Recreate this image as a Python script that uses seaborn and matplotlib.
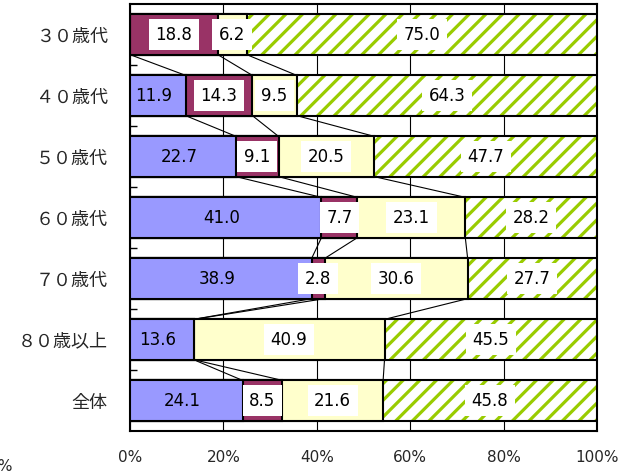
import numpy as np
import pandas as pd
import matplotlib
matplotlib.use("Agg")
import matplotlib.pyplot as plt
import seaborn as sns

# Age groups (top to bottom) and the four stacked shares (%) per group
categories = ["３０歳代", "４０歳代", "５０歳代", "６０歳代", "７０歳代", "８０歳以上", "全体"]
share_1 = [0.0, 11.9, 22.7, 41.0, 38.9, 13.6, 24.1]
share_2 = [18.8, 14.3, 9.1, 7.7, 2.8, 0.0, 8.5]
share_3 = [6.2, 9.5, 20.5, 23.1, 30.6, 40.9, 21.6]
share_4 = [75.0, 64.3, 47.7, 28.2, 27.7, 45.5, 45.8]
x_ticks = [0, 20, 40, 60, 80, 100]
x_tick_labels = ["0%", "20%", "40%", "60%", "80%", "100%"]

colors = ["#9999FF", "#993366", "#FFFFCC", "#99CC00"]

sns.set_theme(style="white")
plt.rcParams["font.family"] = ["DejaVu Sans", "Noto Sans CJK JP"]
plt.rcParams["hatch.linewidth"] = 2.3

fig = plt.figure(figsize=(6.31, 4.73), dpi=100)
ax = fig.add_axes([130 / 631, 1 - 431 / 473, 467 / 631, 427 / 473])

parts = np.array([share_1, share_2, share_3, share_4])
cum = parts.cumsum(axis=0)
df = pd.DataFrame({"category": categories})
bar_h = 0.66

# Outermost layer: hatched stripes, then a black outline on top
df["end"] = cum[3]
sns.barplot(data=df, x="end", y="category", orient="h", color="white",
            width=bar_h, edgecolor=colors[3], hatch="//", linewidth=0,
            saturation=1, errorbar=None, ax=ax, zorder=3)
sns.barplot(data=df, x="end", y="category", orient="h", fill=False,
            width=bar_h, edgecolor="black", linewidth=1.5,
            errorbar=None, ax=ax, zorder=3)

# Inner cumulative layers drawn over the outer ones
for k in (2, 1, 0):
    df["end"] = cum[k]
    sns.barplot(data=df, x="end", y="category", orient="h", color=colors[k],
                width=bar_h, edgecolor="black", linewidth=1.5, saturation=1,
                errorbar=None, ax=ax, zorder=3)

# Series lines joining segment boundaries of neighbouring bars
for k in range(3):
    for i in range(len(categories) - 1):
        ax.plot([cum[k][i], cum[k][i + 1]],
                [i + bar_h / 2, i + 1 - bar_h / 2],
                color="black", lw=0.8, zorder=2)

# Value labels (boxed except on the first segment)
for k in range(4):
    for i in range(len(categories)):
        v = parts[k][i]
        if v == 0:
            continue
        x = cum[k][i] - v / 2
        if k == 0:
            x -= 0.9
        bbox = None if k == 0 else dict(boxstyle="square,pad=0.4", fc="white", ec="none")
        ax.text(x, i, f"{v:.1f}", ha="center", va="center", fontsize=12,
                color="black", bbox=bbox, zorder=5)

ax.set_xlim(0, 100)
ax.set_ylim(len(categories) - 0.5, -0.5)
ax.set_xticks(x_ticks)
ax.set_xticklabels(x_tick_labels, fontsize=11)
ax.set_yticks(range(len(categories)))
ax.set_yticklabels(categories, fontsize=13, family=["Noto Sans CJK JP", "DejaVu Sans"])
ax.set_yticks(np.arange(0.5, len(categories) - 1, 1.0), minor=True)
ax.tick_params(axis="y", which="major", length=0, pad=16)
ax.tick_params(axis="y", which="minor", left=True, direction="in", length=5, width=1, color="black")
ax.tick_params(axis="x", length=0, pad=14)
ax.set_xlabel("")
ax.set_ylabel("")
ax.grid(axis="x", color="black", lw=0.8, zorder=1)
ax.set_axisbelow(True)
for s in ax.spines.values():
    s.set_visible(True)
    s.set_color("black")
    s.set_linewidth(1.5)

fig.text(13 / 631, 1 - 466 / 473, "100%", ha="right", va="center", fontsize=11)

fig.savefig("out.png", dpi=100)
